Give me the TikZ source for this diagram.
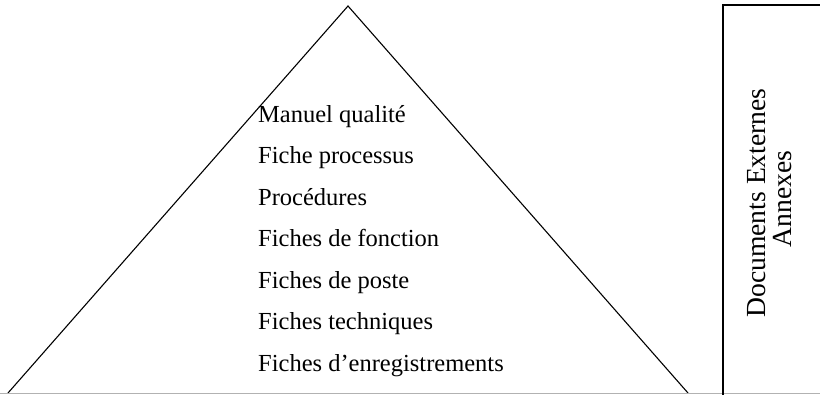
\documentclass[tikz,border=0pt]{standalone}
\usepackage{fontspec}
\setmainfont{Liberation Serif}
\begin{document}
\begin{tikzpicture}[x=1pt,y=-1pt,
  edge/.style={draw=black,line width=1.1pt},
  level/.style={anchor=base west,inner sep=0pt,font=\fontsize{24.5}{28}\selectfont},
  side/.style={rotate=90,anchor=base,inner sep=0pt,font=\fontsize{27.6}{30}\selectfont}]
  \useasboundingbox (0,0) rectangle (820,394);
  % pyramid
  \coordinate (apex) at (348,6);
  \coordinate (bl) at (8,393);
  \coordinate (br) at (688,393);
  \draw[edge] (bl) -- (apex) -- (br);
  % faint bottom rule
  \draw[black!30,line width=1pt] (0,393.3) -- (820,393.3);
  % levels of the documentation
  \node[level] (l1) at (258,122) {Manuel qualité};
  \node[level] (l2) at (258,163.5) {Fiche processus};
  \node[level] (l3) at (258,205) {Procédures};
  \node[level] (l4) at (258,246.5) {Fiches de fonction};
  \node[level] (l5) at (258,288) {Fiches de poste};
  \node[level] (l6) at (258,329.5) {Fiches techniques};
  \node[level] (l7) at (258,371) {Fiches d’enregistrements};
  % side box
  \draw[edge] (825,5) -- (723,5) -- (723,396);
  \node[side] (ext) at (765,203) {Documents Externes};
  \node[side] (ann) at (791,199) {Annexes};
\end{tikzpicture}
\end{document}
